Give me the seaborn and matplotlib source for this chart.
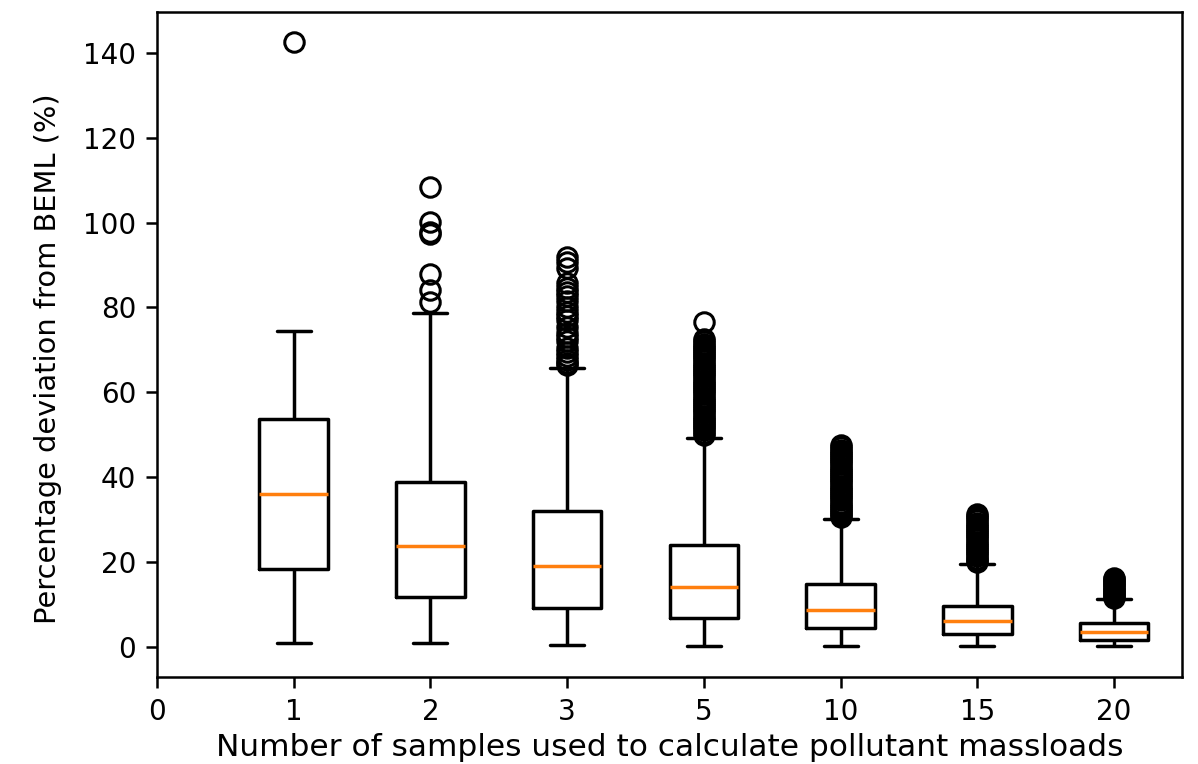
import numpy as np
import pandas as pd
import matplotlib
matplotlib.use("Agg")
import matplotlib.pyplot as plt
import seaborn as sns

# ---- data ----
categories = ["1", "2", "3", "5", "10", "15", "20"]
whisker_low = [1.0, 0.9, 0.5, 0.1, 0.1, 0.1, 0.1]
q1 = [18.3, 11.8, 9.2, 6.8, 4.4, 2.9, 1.7]
median = [36.0, 23.8, 19.1, 14.1, 8.7, 6.1, 3.5]
q3 = [53.6, 38.8, 32.0, 24.0, 14.8, 9.6, 5.6]
whisker_high = [74.5, 78.6, 65.8, 49.2, 30.2, 19.6, 11.3]
outliers_1 = [142.5]
outliers_2 = [108.3, 100.2, 97.8, 97.2, 88.0, 84.0, 81.3]
outliers_3 = [92.0, 90.6, 89.2, 85.8, 84.5, 83.6, 82.8, 81.5, 80.0, 79.0, 78.0,
              77.0, 75.5, 74.0, 73.0, 72.0, 70.5, 69.5, 68.5, 67.5, 67.0, 66.5]
outliers_5 = [76.5, 72.5, 72.0, 71.5, 71.0, 70.5, 70.0, 69.5, 69.0, 68.5, 68.0,
              67.5, 67.0, 66.5, 66.0, 65.5, 65.0, 64.5, 64.0, 63.5, 63.0, 62.5,
              62.0, 61.5, 61.0, 60.5, 60.0, 59.5, 59.0, 58.5, 58.0, 57.5, 57.0,
              56.5, 56.0, 55.5, 55.0, 54.5, 54.0, 53.5, 53.0, 52.5, 52.0, 51.5,
              51.0, 50.5, 50.0]
outliers_10 = [47.5, 47.0, 46.5, 46.0, 45.5, 45.0, 44.5, 44.0, 43.5, 43.0, 42.5,
               42.0, 41.5, 41.0, 40.5, 40.0, 39.5, 39.0, 38.5, 38.0, 37.5, 37.0,
               36.5, 36.0, 35.5, 35.0, 34.5, 34.0, 33.5, 33.0, 32.5, 32.0, 31.5,
               31.0, 30.6]
outliers_15 = [31.3, 30.8, 30.3, 29.8, 29.3, 28.8, 28.3, 27.8, 27.3, 26.8, 26.3,
               25.8, 25.3, 24.8, 24.3, 23.8, 23.3, 22.8, 22.3, 21.8, 21.3, 20.8,
               20.4, 20.0]
outliers_20 = [16.3, 15.9, 15.5, 15.1, 14.7, 14.3, 13.9, 13.5, 13.1, 12.7, 12.3,
               11.9, 11.6]
outliers = [outliers_1, outliers_2, outliers_3, outliers_5, outliers_10,
            outliers_15, outliers_20]
xtick_labels = ["0"] + categories
yticks = [0, 20, 40, 60, 80, 100, 120, 140]

# ---- build a sample per group that reproduces the read statistics ----
rows = []
for i, cat in enumerate(categories):
    out = outliers[i]
    m = len(out) + 10
    vals = ([whisker_low[i]] + [q1[i]] * m + [median[i]] * m + [q3[i]] * m
            + [whisker_high[i]] + list(out))
    for v in vals:
        rows.append({"pos": i + 1, "value": v})
df = pd.DataFrame(rows)

# ---- style ----
sns.set_style("ticks")
plt.rcParams.update({
    "font.family": ["DejaVu Sans"],
    "font.size": 20,
    "text.color": "black",
    "axes.labelcolor": "black",
    "axes.edgecolor": "black",
    "xtick.color": "black",
    "ytick.color": "black",
    "axes.linewidth": 1.8,
    "xtick.major.size": 8,
    "ytick.major.size": 8,
    "xtick.major.width": 1.8,
    "ytick.major.width": 1.8,
    "xtick.major.pad": 7,
    "ytick.major.pad": 7,
})

fig = plt.figure(figsize=(11.98, 7.64), dpi=100)
ax = fig.add_axes([0.131, 0.114, 0.856, 0.870])

lw = 2.5
sns.boxplot(
    data=df, x="pos", y="value", native_scale=True, width=0.5, fill=False,
    color="black", linewidth=lw, whis=1.5, ax=ax,
    boxprops={"color": "black", "linewidth": lw},
    whiskerprops={"color": "black", "linewidth": lw},
    capprops={"color": "black", "linewidth": lw},
    medianprops={"color": "#ff7f0e", "linewidth": lw},
    flierprops={"marker": "o", "markersize": 14, "markerfacecolor": "none",
                "markeredgecolor": "black", "markeredgewidth": 2.2},
)

ax.set_xticks(range(len(xtick_labels)))
ax.set_xticklabels(xtick_labels)
ax.set_xlim(0, 7.5)
ax.set_yticks(yticks)
ax.set_ylim(-7.1, 149.6)
ax.set_xlabel("Number of samples used to calculate pollutant massloads",
              fontsize=22.5)
ax.xaxis.set_label_coords(0.5, -0.085)
ax.set_ylabel("Percentage deviation from BEML (%)", fontsize=20.8)
ax.yaxis.set_label_coords(-0.093, 0.478)
for s in ax.spines.values():
    s.set_visible(True)

fig.savefig("out.png", dpi=100)
